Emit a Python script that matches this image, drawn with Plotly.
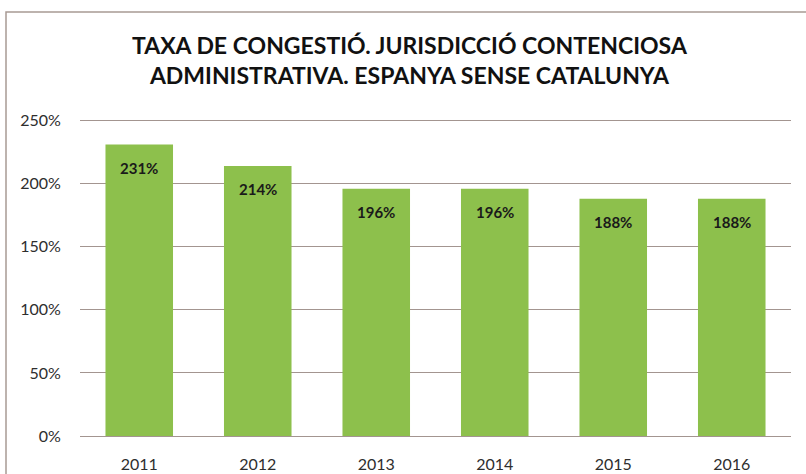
import plotly.graph_objects as go

years = ["2011", "2012", "2013", "2014", "2015", "2016"]
values = [231, 214, 196, 196, 188, 188]
labels = ["231%", "214%", "196%", "196%", "188%", "188%"]
tick_vals = [0, 50, 100, 150, 200, 250]
tick_text = ["0%", "50%", "100%", "150%", "200%", "250%"]

W, H = 806, 474
ml, mr, mt, mb = 80, 15, 118, 38

fig = go.Figure()
fig.add_trace(go.Bar(
    x=years, y=values,
    marker=dict(color="#8dc04c", line=dict(width=0)),
    hoverinfo="skip",
))

for i, (v, t) in enumerate(zip(values, labels)):
    fig.add_annotation(x=i, y=v, text="<b>%s</b>" % t, showarrow=False,
                       yanchor="top", yshift=-12,
                       font=dict(family="Lato, Open Sans, sans-serif", size=15, color="#1a1a1a"))

pw = W - ml - mr
ph = H - mt - mb
fig.add_shape(type="rect", xref="paper", yref="paper",
              x0=(6 - ml) / pw, x1=(W + 5 - ml) / pw,
              y0=-(H + 5 - mt - ph) / ph, y1=1 + (mt - 12) / ph,
              line=dict(color="#a89a94", width=1.5), fillcolor="rgba(0,0,0,0)", layer="below")

fig.update_layout(
    width=W, height=H,
    margin=dict(l=ml, r=mr, t=mt, b=mb, autoexpand=False),
    paper_bgcolor="white", plot_bgcolor="white",
    bargap=0.43,
    showlegend=False,
    title=dict(
        text="<b>TAXA DE CONGESTIÓ. JURISDICCIÓ CONTENCIOSA<br>ADMINISTRATIVA. ESPANYA SENSE CATALUNYA</b>",
        x=0.508, xanchor="center", y=0.886, yanchor="top",
        font=dict(family="Lato, Open Sans, sans-serif", size=23, color="#111111"),
    ),
    xaxis=dict(
        type="category", range=[-0.5, 5.5], automargin=False,
        tickfont=dict(family="Lato, Open Sans, sans-serif", size=16, color="#2e2e2e"),
        showline=False, ticks="outside", ticklen=14, tickcolor="rgba(0,0,0,0)", showgrid=False,
    ),
    yaxis=dict(
        range=[0, 252], tickvals=tick_vals, ticktext=tick_text, automargin=False,
        tickfont=dict(family="Lato, Open Sans, sans-serif", size=16, color="#2e2e2e"),
        showgrid=True, gridcolor="#a39590", gridwidth=1.2,
        zeroline=True, zerolinecolor="#a39590", zerolinewidth=1.2,
        ticks="outside", ticklen=15, tickcolor="rgba(0,0,0,0)",
        showline=False,
    ),
)

fig.write_html("out.html", config={"displayModeBar": False},
               post_script="document.body.style.margin='0';document.body.style.overflow='hidden';")
